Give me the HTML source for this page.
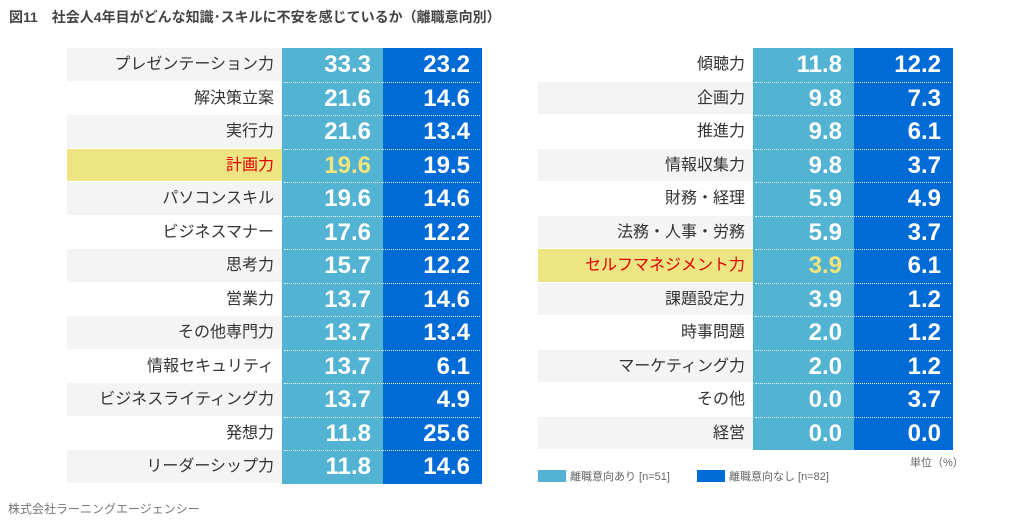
<!DOCTYPE html>
<html><head><meta charset="utf-8"><style>
body{margin:0;width:1020px;height:522px;background:#fff;position:relative;overflow:hidden;font-family:"Liberation Sans","Noto Sans CJK JP",sans-serif;}
.t{position:absolute;white-space:nowrap}
.cell{position:absolute;box-sizing:border-box}
.lab{font-size:16px;color:#333;text-align:right;padding-right:8px;line-height:33px}
.val{font-family:"Liberation Sans Narrow","Liberation Sans",sans-serif;font-weight:bold;font-size:24px;color:#fff;text-align:right;padding-right:12px;line-height:33px}
.sep{position:absolute;height:0;border-top:1.5px dotted rgba(255,255,255,0.9)}
</style></head><body>
<div class="t" style="left:9px;top:7px;font-size:14px;color:#444;font-weight:bold">図11　社会人4年目がどんな知識･スキルに不安を感じているか（離職意向別）</div>
<div id="tables"></div>
<div class="t" style="left:910px;top:454px;font-size:11px;color:#666">単位（%）</div>
<div class="cell" style="left:538px;top:470px;width:28px;height:12px;background:#52b3d3"></div>
<div class="t" style="left:570px;top:468px;font-size:11px;color:#666">離職意向あり [n=51]</div>
<div class="cell" style="left:697px;top:470px;width:28px;height:12px;background:#006ad6"></div>
<div class="t" style="left:729px;top:468px;font-size:11px;color:#666">離職意向なし [n=82]</div>
<div class="t" style="left:8px;top:500px;font-size:12px;color:#777">株式会社ラーニングエージェンシー</div>
<script>
const leftCategories=["プレゼンテーション力","解決策立案","実行力","計画力","パソコンスキル","ビジネスマナー","思考力","営業力","その他専門力","情報セキュリティ","ビジネスライティング力","発想力","リーダーシップ力"];
const leftYes=[33.3,21.6,21.6,19.6,19.6,17.6,15.7,13.7,13.7,13.7,13.7,11.8,11.8];
const leftNo=[23.2,14.6,13.4,19.5,14.6,12.2,12.2,14.6,13.4,6.1,4.9,25.6,14.6];
const leftHighlight=["計画力"];
const rightCategories=["傾聴力","企画力","推進力","情報収集力","財務・経理","法務・人事・労務","セルフマネジメント力","課題設定力","時事問題","マーケティング力","その他","経営"];
const rightYes=[11.8,9.8,9.8,9.8,5.9,5.9,3.9,3.9,2.0,2.0,0.0,0.0];
const rightNo=[12.2,7.3,6.1,3.7,4.9,3.7,6.1,1.2,1.2,1.2,3.7,0.0];
const rightHighlight=["セルフマネジメント力"];
const root=document.getElementById('tables');
function table(x0,cats,yes,no,hl,grayOdd,prefix){
  const top=48,rh=33.5,lw=[x0,x0+215,x0+316,x0+415];
  const colA=document.createElement('div');
  colA.className='cell';colA.style.cssText=`left:${lw[1]}px;top:${top}px;width:${lw[2]-lw[1]}px;height:${rh*cats.length}px;background:#52b3d3`;
  
  
  root.appendChild(colA);
  const colB=document.createElement('div');
  colB.className='cell';colB.style.cssText=`left:${lw[2]}px;top:${top}px;width:${lw[3]-lw[2]}px;height:${rh*cats.length}px;background:#006ad6`;
  
  
  root.appendChild(colB);
  cats.forEach((c,i)=>{
    const y=top+i*rh, h=hl.includes(c);
    const bg=h?'#ede584':((i%2===0)===grayOdd?'#f4f4f4':'#fff');
    const l=document.createElement('div');
    l.className='cell lab';
    l.style.cssText=`left:${lw[0]}px;top:${y}px;width:${lw[1]-lw[0]}px;height:${rh-1}px;background:${bg};${h?'color:#e00000;':''}`;
    l.textContent=c;
    
    
    root.appendChild(l);
    const a=document.createElement('div');
    a.className='cell val';
    a.style.cssText=`left:${lw[1]}px;top:${y}px;width:${lw[2]-lw[1]}px;height:${rh}px;${h?'color:#f1e47a;':''}`;
    a.textContent=yes[i].toFixed(1);
    
    
    root.appendChild(a);
    const b=document.createElement('div');
    b.className='cell val';
    b.style.cssText=`left:${lw[2]}px;top:${y}px;width:${lw[3]-lw[2]}px;height:${rh}px;`;
    b.textContent=no[i].toFixed(1);
    
    
    root.appendChild(b);
    if(i>0){
      const s=document.createElement('div');
      s.className='sep';
      s.style.cssText=`left:${lw[1]+2}px;top:${y}px;width:${lw[3]-lw[1]-4}px`;
      
      
      root.appendChild(s);
    }
  });
}
table(67,leftCategories,leftYes,leftNo,leftHighlight,true,'left');
table(538,rightCategories,rightYes,rightNo,rightHighlight,false,'right');
</script>
</body></html>
